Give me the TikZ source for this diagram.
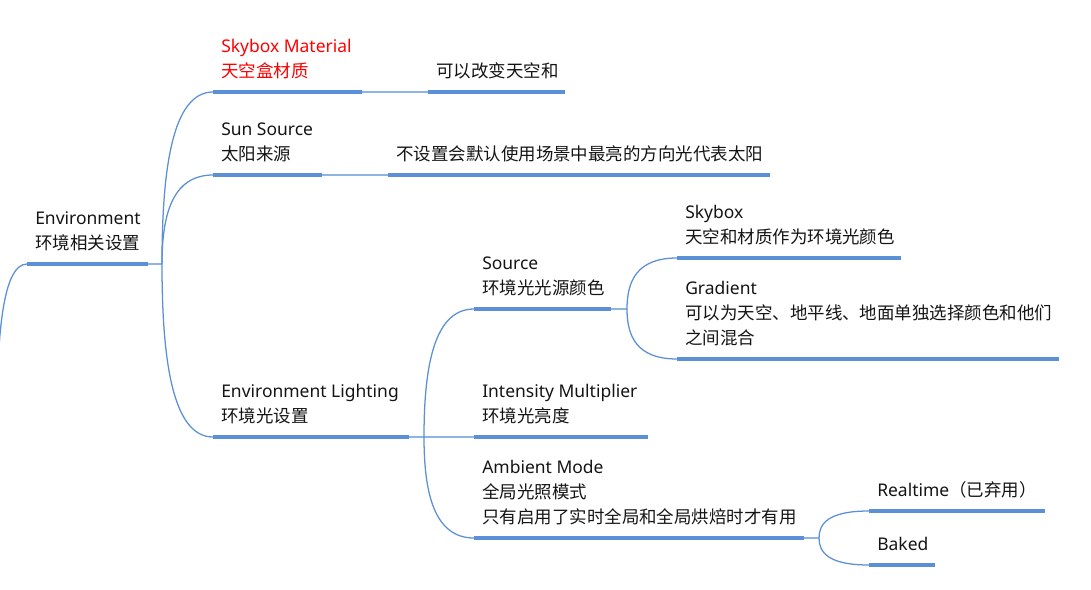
\documentclass[tikz,border=0pt]{standalone}
\usepackage{fontspec}
\setmainfont{Noto Sans}
\newfontfamily\cjk{Noto Sans CJK SC}
\usetikzlibrary{calc}
\definecolor{barblue}{RGB}{91,143,214}
\definecolor{linkblue}{RGB}{141,180,226}
\definecolor{ink}{RGB}{20,20,20}
\definecolor{hot}{RGB}{255,0,0}
\tikzset{
  bar/.style={draw=barblue, line width=3pt},
  link/.style={draw=linkblue, line width=1.1pt},
  curve/.style={draw=barblue, line width=0.95pt},
  % base anchor sits on the baseline of the last text line
  topic/.style={anchor=base west, inner sep=0pt, align=left, text=ink,
                font=\fontsize{13.1}{18.4}\selectfont},
}
% curved branch from a fork point to the start of a child bar
\newcommand\twig[2]{\draw[curve] (#1) .. controls ($(#1)!0.55!(#1|-#2)$) and ($(#1|-#2)!0.2!(#2)$) .. (#2);}
\begin{document}
\begin{tikzpicture}[x=0.75pt, y=-0.75pt]
\useasboundingbox (0,0) rectangle (1091,589);
\clip (0,0) rectangle (1091,589);

% bar end points and fork points
\coordinate (root) at (-3,420);
\coordinate (envL) at (27,264);  \coordinate (envR) at (148,264);
\coordinate (b1)   at (162,264);
\coordinate (smL)  at (213,92);  \coordinate (smR)  at (362,92);
\coordinate (n1L)  at (428,92);  \coordinate (n1R)  at (565,92);
\coordinate (ssL)  at (213,175); \coordinate (ssR)  at (322,175);
\coordinate (n2L)  at (388,175); \coordinate (n2R)  at (770,175);
\coordinate (elL)  at (213,437); \coordinate (elR)  at (409,437);
\coordinate (b2)   at (424,437);
\coordinate (srL)  at (474,309); \coordinate (srR)  at (611,309);
\coordinate (b3)   at (627,309);
\coordinate (sbL)  at (677,258); \coordinate (sbR)  at (901,258);
\coordinate (grL)  at (677,359); \coordinate (grR)  at (1059,359);
\coordinate (imL)  at (474,437); \coordinate (imR)  at (648,437);
\coordinate (amL)  at (474,538); \coordinate (amR)  at (804,538);
\coordinate (b4)   at (819,538);
\coordinate (rtL)  at (869,511); \coordinate (rtR)  at (1045,511);
\coordinate (bkL)  at (869,565); \coordinate (bkR)  at (935,565);

% thin straight links
\draw[link] (envR) -- (b1);
\draw[link] (smR) -- (n1L);
\draw[link] (ssR) -- (n2L);
\draw[link] (elR) -- (imL);
\draw[link] (srR) -- (b3);
\draw[link] (amR) -- (b4);

% curved branches
\draw[curve] (root) .. controls (-3,334) and (3,264) .. (envL);
\twig{b1}{smL}
\twig{b1}{ssL}
\twig{b1}{elL}
\twig{b2}{srL}
\twig{b2}{amL}
\twig{b3}{sbL}
\twig{b3}{grL}
\twig{b4}{rtL}
\twig{b4}{bkL}

% underline bars
\foreach \a/\b in {envL/envR, smL/smR, n1L/n1R, ssL/ssR, n2L/n2R, elL/elR,
                   srL/srR, sbL/sbR, grL/grR, imL/imR, amL/amR, rtL/rtR, bkL/bkR}
  \draw[bar] (\a) -- (\b);

% topic texts (placed by the baseline of their last line)
\node[topic] (envT) at (35,249) {Environment\\\cjk 环境相关设置};
\node[topic, text=hot] (smT) at (221,77) {Skybox Material\\\cjk 天空盒材质};
\node[topic] (n1T) at (436,77) {\cjk 可以改变天空和};
\node[topic] (ssT) at (221,160) {Sun Source\\\cjk 太阳来源};
\node[topic] (n2T) at (396,160) {\cjk 不设置会默认使用场景中最亮的方向光代表太阳};
\node[topic] (elT) at (221,422) {Environment Lighting\\\cjk 环境光设置};
\node[topic] (srT) at (482,294) {Source\\\cjk 环境光光源颜色};
\node[topic] (sbT) at (685,243) {Skybox\\\cjk 天空和材质作为环境光颜色};
\node[topic] (grT) at (685,344) {Gradient\\\cjk 可以为天空、地平线、地面单独选择颜色和他们\\\cjk 之间混合};
\node[topic] (imT) at (482,422) {Intensity Multiplier\\\cjk 环境光亮度};
\node[topic] (amT) at (482,523) {Ambient Mode\\\cjk 全局光照模式\\\cjk 只有启用了实时全局和全局烘焙时才有用};
\node[topic] (rtT) at (877,496) {Realtime{\cjk （已弃用）}};
\node[topic] (bkT) at (877,550) {Baked};
\end{tikzpicture}
\end{document}
